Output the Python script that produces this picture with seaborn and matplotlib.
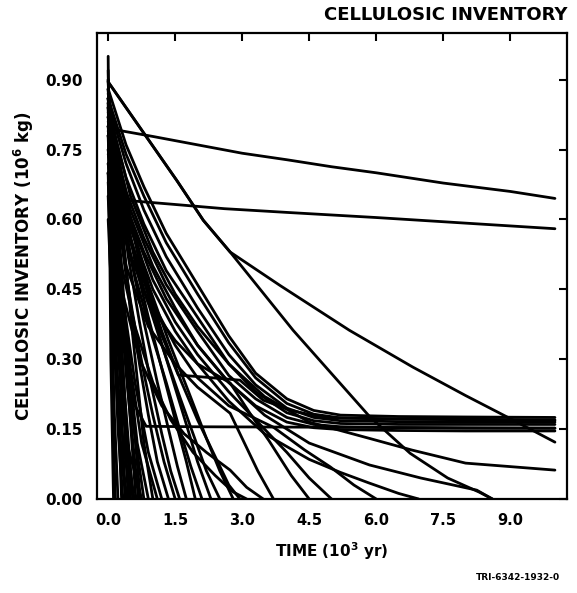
import matplotlib
matplotlib.use("Agg")
import matplotlib.pyplot as plt
import seaborn as sns
import pandas as pd

# ---- data (time in 10^3 yr, inventory in 10^6 kg) ----
SLOW_RUNS = [
    ([0.0, 0.3, 1.0, 2.0, 3.0, 4.0, 5.0, 6.0, 7.5, 9.0, 10.0],
     [0.80, 0.79, 0.778, 0.76, 0.742, 0.728, 0.713, 0.70, 0.678, 0.66, 0.645]),
    ([0.0, 0.5, 1.5, 2.6, 4.0, 6.0, 8.0, 10.0],
     [0.65, 0.64, 0.632, 0.623, 0.615, 0.604, 0.592, 0.58]),
]

DIAGONAL_RUNS = [
    ([0.0, 1.54, 2.13, 2.73, 4.14, 5.86, 6.76, 7.6, 8.3, 8.6],
     [0.895, 0.683, 0.598, 0.53, 0.362, 0.176, 0.098, 0.045, 0.015, 0.0]),
    ([0.0, 1.54, 2.13, 2.73, 3.85, 5.4, 6.82, 8.0, 8.93, 10.0],
     [0.895, 0.683, 0.598, 0.53, 0.458, 0.362, 0.283, 0.222, 0.176, 0.122]),
]

PLATEAU_RUNS = [
    ([0.0, 0.4, 0.8, 1.3, 2.0, 2.7, 3.3, 4.0, 4.6, 5.2, 6.5, 8.0, 10.0],
     [0.88, 0.76, 0.67, 0.57, 0.46, 0.35, 0.27, 0.215, 0.19, 0.18, 0.177, 0.176, 0.175]),
    ([0.0, 0.4, 0.8, 1.3, 2.0, 2.7, 3.3, 4.0, 4.6, 5.2, 6.5, 8.0, 10.0],
     [0.86, 0.74, 0.65, 0.55, 0.44, 0.335, 0.26, 0.205, 0.182, 0.174, 0.172, 0.171, 0.17]),
    ([0.0, 0.4, 0.8, 1.3, 2.0, 2.7, 3.3, 4.0, 4.6, 5.2, 6.5, 8.0, 10.0],
     [0.85, 0.72, 0.62, 0.52, 0.41, 0.31, 0.245, 0.195, 0.175, 0.168, 0.166, 0.165, 0.165]),
    ([0.0, 0.4, 0.8, 1.3, 2.0, 2.7, 3.3, 4.0, 4.6, 5.2, 6.5, 8.0, 10.0],
     [0.83, 0.69, 0.59, 0.49, 0.39, 0.29, 0.23, 0.185, 0.168, 0.162, 0.16, 0.16, 0.16]),
    ([0.0, 0.4, 0.8, 1.3, 2.0, 2.7, 3.3, 4.0, 4.6, 5.2, 6.5, 8.0, 10.0],
     [0.81, 0.66, 0.56, 0.46, 0.36, 0.265, 0.215, 0.175, 0.16, 0.155, 0.153, 0.152, 0.152]),
    ([0.0, 0.4, 0.8, 1.3, 2.0, 2.7, 3.3, 4.0, 4.6, 5.2, 6.5, 8.0, 10.0],
     [0.79, 0.63, 0.53, 0.43, 0.33, 0.25, 0.2, 0.165, 0.153, 0.149, 0.147, 0.146, 0.146]),
    # run with the kink near 0.26
    ([0.0, 0.5, 1.15, 1.57, 2.1, 2.95, 3.47, 4.1, 4.8, 6.0, 8.0, 10.0],
     [0.74, 0.56, 0.362, 0.266, 0.262, 0.255, 0.212, 0.19, 0.175, 0.172, 0.17, 0.168]),
    # run that drops fast then stays flat near 0.155
    ([0.0, 0.3, 0.6, 0.85, 2.0, 5.0, 10.0],
     [0.70, 0.40, 0.20, 0.156, 0.155, 0.154, 0.152]),
]

LATE_RUNS = [
    ([0.0, 0.5, 1.0, 1.5, 2.0, 2.7, 3.5, 4.5, 5.85, 7.0, 8.25, 8.6],
     [0.82, 0.62, 0.50, 0.41, 0.33, 0.25, 0.18, 0.12, 0.073, 0.045, 0.019, 0.0]),
    ([0.0, 0.5, 1.0, 1.5, 2.0, 2.7, 3.5, 4.5, 5.85, 6.8, 8.0, 10.0],
     [0.84, 0.65, 0.53, 0.44, 0.37, 0.29, 0.22, 0.165, 0.13, 0.105, 0.077, 0.062]),
    ([0.0, 0.5, 1.0, 1.5, 2.0, 2.7, 3.5, 4.5, 5.2, 5.85, 6.5, 6.95],
     [0.80, 0.58, 0.45, 0.36, 0.29, 0.21, 0.14, 0.085, 0.057, 0.034, 0.012, 0.0]),
    ([0.0, 0.5, 1.0, 1.5, 2.0, 2.7, 3.7, 4.4, 4.97, 5.5, 6.0],
     [0.78, 0.55, 0.42, 0.33, 0.26, 0.20, 0.154, 0.105, 0.069, 0.03, 0.0]),
    ([0.0, 0.5, 1.0, 1.5, 2.0, 2.7, 3.5, 4.0, 4.5, 5.0],
     [0.82, 0.60, 0.47, 0.38, 0.31, 0.23, 0.15, 0.10, 0.045, 0.0]),
    ([0.0, 0.4, 0.9, 1.5, 2.0, 2.73, 3.2, 3.6, 4.1, 4.5],
     [0.78, 0.55, 0.42, 0.34, 0.29, 0.249, 0.18, 0.125, 0.05, 0.0]),
    ([0.0, 0.4, 0.9, 1.5, 2.0, 2.73, 3.0, 3.35, 3.7],
     [0.75, 0.50, 0.37, 0.29, 0.24, 0.184, 0.13, 0.06, 0.0]),
    ([0.0, 0.3, 0.7, 1.2, 1.7, 2.2, 2.73, 3.1, 3.47],
     [0.72, 0.45, 0.30, 0.20, 0.14, 0.10, 0.062, 0.025, 0.0]),
]

MEDIUM_RUNS = [
    ([0.0, 0.15, 0.3, 0.5, 0.7, 0.9, 1.1, 1.35], [0.86, 0.70, 0.57, 0.42, 0.29, 0.18, 0.08, 0.0]),
    ([0.0, 0.2, 0.4, 0.6, 0.8, 1.0, 1.25, 1.5], [0.80, 0.62, 0.48, 0.37, 0.27, 0.18, 0.08, 0.0]),
    ([0.0, 0.2, 0.45, 0.7, 0.95, 1.2, 1.4, 1.6], [0.88, 0.70, 0.52, 0.38, 0.25, 0.14, 0.06, 0.0]),
    ([0.0, 0.25, 0.5, 0.8, 1.1, 1.35, 1.55, 1.75], [0.84, 0.66, 0.52, 0.38, 0.25, 0.15, 0.07, 0.0]),
    ([0.0, 0.3, 0.6, 0.9, 1.2, 1.5, 1.75, 1.95], [0.86, 0.66, 0.51, 0.39, 0.28, 0.17, 0.08, 0.0]),
    ([0.0, 0.3, 0.6, 0.95, 1.3, 1.6, 1.85, 2.1], [0.82, 0.62, 0.48, 0.36, 0.25, 0.15, 0.07, 0.0]),
    ([0.0, 0.35, 0.7, 1.05, 1.4, 1.75, 2.0, 2.3], [0.87, 0.66, 0.51, 0.38, 0.27, 0.16, 0.08, 0.0]),
    ([0.0, 0.4, 0.8, 1.2, 1.6, 1.9, 2.2, 2.5], [0.80, 0.60, 0.45, 0.33, 0.22, 0.14, 0.06, 0.0]),
    ([0.0, 0.45, 0.9, 1.35, 1.8, 2.2, 2.5, 2.8], [0.84, 0.62, 0.46, 0.34, 0.23, 0.13, 0.06, 0.0]),
    ([0.0, 0.3, 0.6, 1.0, 1.4, 1.9, 2.4, 2.8, 3.1], [0.70, 0.50, 0.37, 0.25, 0.17, 0.10, 0.05, 0.015, 0.0]),
    ([0.0, 0.4, 0.8, 1.2, 1.6, 2.0, 2.4, 2.7, 2.95], [0.86, 0.64, 0.48, 0.36, 0.26, 0.17, 0.09, 0.03, 0.0]),
]

FAST_RUNS = [
    ([0.0, 0.02, 0.06, 0.12], [0.95, 0.70, 0.30, 0.0]),
    ([0.0, 0.05, 0.10, 0.16], [0.85, 0.50, 0.20, 0.0]),
    ([0.0, 0.06, 0.14, 0.22], [0.70, 0.45, 0.18, 0.0]),
    ([0.0, 0.08, 0.20, 0.30], [0.90, 0.60, 0.25, 0.0]),
    ([0.0, 0.10, 0.25, 0.38], [0.88, 0.62, 0.30, 0.0]),
    ([0.0, 0.12, 0.30, 0.45], [0.86, 0.60, 0.28, 0.0]),
    ([0.0, 0.15, 0.32, 0.50], [0.84, 0.58, 0.30, 0.0]),
    ([0.0, 0.15, 0.35, 0.55], [0.80, 0.55, 0.25, 0.0]),
    ([0.0, 0.18, 0.40, 0.62], [0.88, 0.62, 0.30, 0.0]),
    ([0.0, 0.20, 0.42, 0.68], [0.75, 0.50, 0.25, 0.0]),
    ([0.0, 0.22, 0.45, 0.72], [0.86, 0.60, 0.30, 0.0]),
    ([0.0, 0.25, 0.50, 0.80], [0.70, 0.45, 0.20, 0.0]),
    ([0.0, 0.10, 0.30, 0.50], [0.65, 0.40, 0.15, 0.0]),
    ([0.0, 0.12, 0.26, 0.40], [0.60, 0.35, 0.12, 0.0]),
    ([0.0, 0.20, 0.45, 0.65, 0.90], [0.82, 0.55, 0.30, 0.12, 0.0]),
    ([0.0, 0.30, 0.55, 0.80, 1.00], [0.85, 0.60, 0.35, 0.12, 0.0]),
    ([0.0, 0.25, 0.50, 0.75, 1.10], [0.78, 0.50, 0.28, 0.12, 0.0]),
    ([0.0, 0.30, 0.60, 0.90, 1.20], [0.72, 0.45, 0.25, 0.10, 0.0]),
    ([0.0, 0.05, 0.12, 0.22, 0.33], [0.92, 0.65, 0.40, 0.15, 0.0]),
    ([0.0, 0.07, 0.16, 0.28, 0.42], [0.78, 0.55, 0.32, 0.12, 0.0]),
    ([0.0, 0.10, 0.20, 0.35, 0.58], [0.90, 0.62, 0.40, 0.18, 0.0]),
    ([0.0, 0.12, 0.25, 0.42, 0.75], [0.68, 0.45, 0.28, 0.12, 0.0]),
]

X_TICKS = [0.0, 1.5, 3.0, 4.5, 6.0, 7.5, 9.0]
X_TICK_LABELS = ["0.0", "1.5", "3.0", "4.5", "6.0", "7.5", "9.0"]
Y_TICKS = [0.00, 0.15, 0.30, 0.45, 0.60, 0.75, 0.90]
Y_TICK_LABELS = ["0.00", "0.15", "0.30", "0.45", "0.60", "0.75", "0.90"]

TITLE = "CELLULOSIC INVENTORY"
X_LABEL = r"TIME (10$^{\mathbf{3}}$ yr)"
Y_LABEL = r"CELLULOSIC INVENTORY (10$^{\mathbf{6}}$ kg)"
FOOTER = "TRI-6342-1932-0"

# ---- build long-form table ----
rows = []
run_id = 0
for group in (FAST_RUNS, MEDIUM_RUNS, LATE_RUNS, PLATEAU_RUNS, DIAGONAL_RUNS, SLOW_RUNS):
    for times, values in group:
        for order, (t, v) in enumerate(zip(times, values)):
            rows.append({"run": run_id, "order": order, "time": t, "inventory": v})
        run_id += 1
df = pd.DataFrame(rows)

sns.set_style("white")
plt.rcParams["font.family"] = ["DejaVu Sans"]
plt.rcParams["mathtext.fontset"] = "dejavusans"
plt.rcParams["text.color"] = "black"
plt.rcParams["axes.labelcolor"] = "black"
plt.rcParams["xtick.color"] = "black"
plt.rcParams["ytick.color"] = "black"

W, H = 577, 593
fig = plt.figure(figsize=(W / 100, H / 100), dpi=100)
ax = fig.add_axes([97 / W, 1 - 499 / H, (567 - 97) / W, (499 - 33) / H])

sns.lineplot(data=df, x="time", y="inventory", units="run", estimator=None,
             sort=False, color="black", linewidth=2.0, legend=False, ax=ax)

ax.set_xlim(-0.25, 10.27)
ax.set_ylim(0.0, 1.0)
ax.set_xticks(X_TICKS)
ax.set_xticklabels(X_TICK_LABELS, fontsize=10.5, fontweight="bold", color="black")
ax.set_yticks(Y_TICKS)
ax.set_yticklabels(Y_TICK_LABELS, fontsize=11, fontweight="bold", color="black")
ax.tick_params(direction="in", length=6, width=1.5, colors="black",
               top=True, right=True, labeltop=False, labelright=False)
ax.tick_params(axis="x", pad=10)
ax.tick_params(axis="y", pad=10)
for sp in ax.spines.values():
    sp.set_visible(True)
    sp.set_linewidth(1.6)
    sp.set_color("black")

ax.set_xlabel(X_LABEL, fontsize=11, fontweight="bold", labelpad=9, color="black")
ax.set_ylabel(Y_LABEL, fontsize=12, fontweight="bold", labelpad=7, color="black")

fig.text(567 / W, 1 - 15 / H, TITLE, ha="right", va="center",
         fontsize=13, fontweight="bold", color="black")
fig.text(560 / W, 1 - 577 / H, FOOTER, ha="right", va="center",
         fontsize=6.5, fontweight="bold", color="black")

fig.savefig("out.png", dpi=100)
